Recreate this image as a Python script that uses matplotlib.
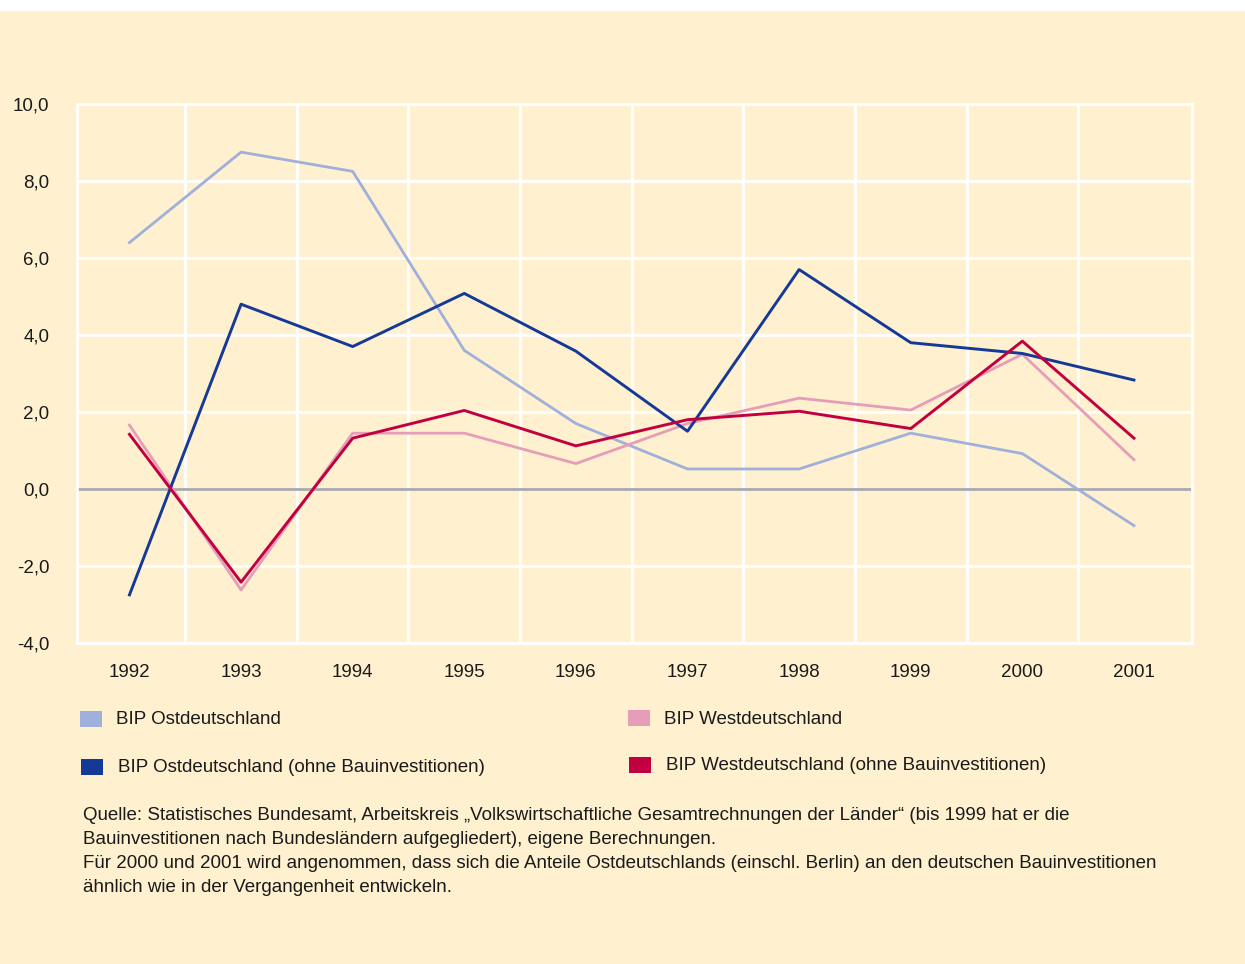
import numpy as np
import matplotlib
matplotlib.use("Agg")
import matplotlib.pyplot as plt
import matplotlib.patches as patches

plt.rcParams['font.family'] = ['Liberation Sans', 'DejaVu Sans']

# Wachstum BIP in %
jahre = ['1992', '1993', '1994', '1995', '1996', '1997', '1998', '1999', '2000', '2001']
bip_ost = [6.4, 8.75, 8.25, 3.6, 1.7, 0.52, 0.52, 1.45, 0.92, -0.95]
bip_ost_ohne_bau = [-2.75, 4.8, 3.7, 5.08, 3.58, 1.5, 5.7, 3.8, 3.52, 2.83]
bip_west = [1.66, -2.62, 1.45, 1.45, 0.66, 1.7, 2.36, 2.05, 3.5, 0.76]
bip_west_ohne_bau = [1.42, -2.42, 1.32, 2.04, 1.12, 1.8, 2.02, 1.57, 3.84, 1.32]

labels = ['BIP Ostdeutschland', 'BIP Westdeutschland',
          'BIP Ostdeutschland (ohne Bauinvestitionen)',
          'BIP Westdeutschland (ohne Bauinvestitionen)']
farben = ['#9fb0da', '#e59db9', '#143996', '#c3003f']

yticks = [-4, -2, 0, 2, 4, 6, 8, 10]

bg = '#fff0cf'
W, H = 1245, 964
fs = 13.5

fig = plt.figure(figsize=(W / 100, H / 100), dpi=100, facecolor='white')
# cremefarbener Hintergrund, oben ein weisser Streifen
fig.patches.append(patches.Rectangle((0, 0), 1, 1 - 11 / H, transform=fig.transFigure,
                                     facecolor=bg, edgecolor='none', zorder=-10))

ax = fig.add_axes([77 / W, 1 - 643 / H, (1192 - 77) / W, (643 - 104) / H])
ax.set_facecolor(bg)

x = np.arange(len(jahre))
ax.plot(x, bip_ost, color=farben[0], lw=2.0, zorder=3)
ax.plot(x, bip_ost_ohne_bau, color=farben[2], lw=2.1, zorder=4)
ax.plot(x, bip_west, color=farben[1], lw=2.0, zorder=3)
ax.plot(x, bip_west_ohne_bau, color=farben[3], lw=2.1, zorder=4)

ax.set_xlim(-0.47, 9.52)
ax.set_ylim(-4, 10)
ax.set_xticks(x)
ax.set_xticklabels(jahre)
ax.set_xticks(x[:-1] + 0.5, minor=True)
ax.set_yticks(yticks)
ax.set_yticklabels(['{0:.1f}'.format(v).replace('.', ',') for v in yticks])
ax.tick_params(axis='both', which='both', length=0, labelsize=fs, colors='#1a1a1a')
ax.tick_params(axis='y', pad=20)
ax.tick_params(axis='x', pad=15)

ax.grid(axis='y', which='major', color='white', lw=2.0, zorder=1)
ax.grid(axis='x', which='minor', color='white', lw=2.0, zorder=1)
ax.grid(axis='x', which='major', visible=False)
for s in ax.spines.values():
    s.set_color('white')
    s.set_linewidth(2.0)
ax.axhline(0, color='#a9a9ae', lw=2.0, zorder=2)

# Legende
leg_pos = [(80, 719, 116), (628, 718, 664), (81, 767, 118), (629, 765, 666)]
for (lx, ly, tx), lab, c in zip(leg_pos, labels, farben):
    fig.patches.append(patches.Rectangle((lx / W, 1 - (ly + 8) / H), 22 / W, 16 / H,
                                         transform=fig.transFigure, facecolor=c,
                                         edgecolor='none'))
    fig.text(tx / W, 1 - (ly + 1) / H, lab, fontsize=fs, va='center', ha='left',
             color='#1a1a1a')

quelle = ['Quelle: Statistisches Bundesamt, Arbeitskreis \u201eVolkswirtschaftliche Gesamtrechnungen der L\u00e4nder\u201c (bis 1999 hat er die',
          'Bauinvestitionen nach Bundesl\u00e4ndern aufgegliedert), eigene Berechnungen.',
          'F\u00fcr 2000 und 2001 wird angenommen, dass sich die Anteile Ostdeutschlands (einschl. Berlin) an den deutschen Bauinvestitionen',
          '\u00e4hnlich wie in der Vergangenheit entwickeln.']
for i, zeile in enumerate(quelle):
    fig.text(83 / W, 1 - (815 + 24 * i) / H, zeile, fontsize=fs, va='center', ha='left',
             color='#1a1a1a')

fig.savefig('out.png', dpi=100, facecolor=fig.get_facecolor())
